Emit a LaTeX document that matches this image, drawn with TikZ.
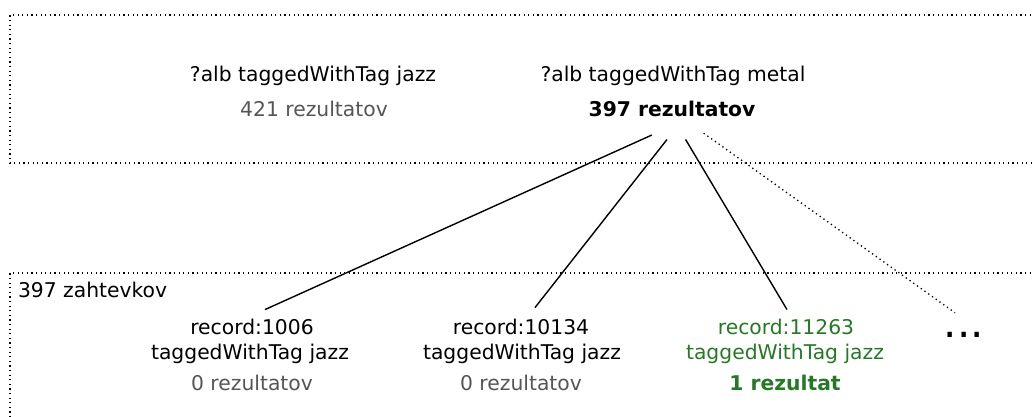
\documentclass[tikz,border=0pt]{standalone}
\usepackage{fontspec}
\setmainfont{DejaVu Sans}
\usetikzlibrary{shapes.geometric,calc}
\definecolor{graytxt}{RGB}{85,85,85}
\definecolor{greentxt}{RGB}{36,122,36}
\begin{document}
\begin{tikzpicture}[x=1pt,y=-1pt,
  font=\fontsize{20.3}{24}\selectfont,
  lbl/.style={inner sep=0pt, outer sep=0pt, anchor=base},
  boxline/.style={line width=1.2pt, dash pattern=on 1.2pt off 3.4pt},
  link/.style={line width=1.4pt},
  dlink/.style={line width=1.3pt, dash pattern=on 1.3pt off 3.3pt}]
\useasboundingbox (0,0) rectangle (1033,417);
% group boxes (open to the right / bottom)
\draw[boxline] (1040,15) -- (10,15) -- (10,163) -- (1040,163);
\draw[boxline] (1040,273) -- (10,273) -- (10,425);
% top queries
\node[lbl] (q1) at (313,82) {?alb taggedWithTag jazz};
\node[lbl, text=graytxt] (r1) at (314,117) {421 rezultatov};
\node[lbl] (q2) at (673,82) {?alb taggedWithTag metal};
\node[lbl] (r2) at (672,117) {\textbf{397 rezultatov}};
\node[ellipse, draw=none, minimum width=86pt, minimum height=60pt, inner sep=0pt] (hub) at (676,110) {};
% bottom
\node[lbl, anchor=base west] (zah) at (18,297) {397 zahtevkov};
\node[lbl] (a1) at (252,334) {record:1006};
\node[lbl] (a2) at (250,359) {taggedWithTag jazz};
\node[lbl, text=graytxt] (a3) at (252,390) {0 rezultatov};
\node[lbl] (b1) at (521,334) {record:10134};
\node[lbl] (b2) at (522,359) {taggedWithTag jazz};
\node[lbl, text=graytxt] (b3) at (521,390) {0 rezultatov};
\node[lbl, text=greentxt] (c1) at (786,334) {record:11263};
\node[lbl, text=greentxt] (c2) at (785,359) {taggedWithTag jazz};
\node[lbl, text=greentxt] (c3) at (785,390) {\textbf{1 rezultat}};
\node[lbl, font=\fontsize{42}{48}\selectfont] (more) at (964,337) {...};
% connectors
\draw[link] (hub.226) -- ($(a1.north)+(13,-9)$);
\draw[link] (hub.253) -- ($(b1.north)+(14,-11)$);
\draw[link] (hub.288) -- ($(c1.north)+(1,-9)$);
\draw[dlink] (hub.320) -- ($(more.north)+(-9,-19)$);
\end{tikzpicture}
\end{document}
